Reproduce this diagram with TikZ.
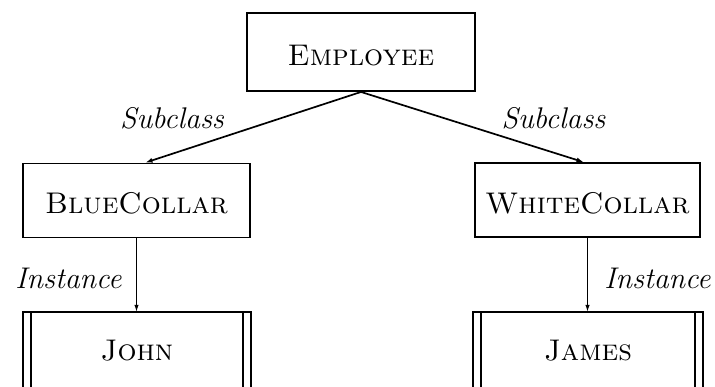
\documentclass[tikz,border=0pt]{standalone}
\usetikzlibrary{arrows.meta}
\newcommand\erfont{\fontsize{30}{36}\selectfont}
\tikzset{
  erbox/.style={draw, line width=1.9bp, minimum width=#1, minimum height=74bp,
    inner sep=0pt, text height=26.5bp, text depth=0bp, font=\erfont\scshape},
  erinst/.style={minimum width=#1, minimum height=78bp, inner sep=0pt,
    font=\erfont\scshape},
  erframe/.style={line width=1.9bp},
  eredge/.style={-{Latex[length=7bp, width=5bp]}, line width=1.7bp},
  erinedge/.style={-{Latex[length=7bp, width=4.5bp]}, line width=1.1bp},
  erlabel/.style={font=\erfont\itshape, inner sep=0pt, anchor=base},
}
\begin{document}
\begin{tikzpicture}[x=1bp, y=-1bp]
  \useasboundingbox (0,0) rectangle (715,386);

  % --- Class hierarchy ----------------------------------------------------
  \node[erbox=228bp, minimum height=78bp] (employee) at (361,52)    {Employee};
  \node[erbox=227bp]                      (blue)     at (136.5,200.5) {BlueCollar};
  \node[erbox=225bp]                      (white)    at (587.5,200) {WhiteCollar};

  % instances (double side walls, open at the bottom)
  \node[erinst=228bp] (john)  at (137,351) {John};
  \node[erinst=230bp] (james) at (588,351) {James};
  \foreach \inst in {john, james} {
    \draw[erframe] (\inst.south west) -- (\inst.north west)
                   -- (\inst.north east) -- (\inst.south east);
    \draw[erframe] ([xshift=8bp]\inst.south west) -- ([xshift=8bp]\inst.north west);
    \draw[erframe] ([xshift=-8bp]\inst.south east) -- ([xshift=-8bp]\inst.north east);
  }

  % --- Edges --------------------------------------------------------------
  \draw[eredge] (employee.south) -- ([xshift=9bp]blue.north);
  \draw[eredge] (employee.south) -- ([xshift=-4bp]white.north);
  \draw[erinedge] (blue.south) -- (blue.south |- john.north);
  \draw[erinedge] (white.south) -- (white.south |- james.north);

  % labels
  \node[erlabel] (subL)  at (172,128)   {Subclass};
  \node[erlabel] (subR)  at (553.5,128) {Subclass};
  \node[erlabel] (instL) at (68.5,288)  {Instance};
  \node[erlabel] (instR) at (657.5,288) {Instance};

\end{tikzpicture}
\end{document}
